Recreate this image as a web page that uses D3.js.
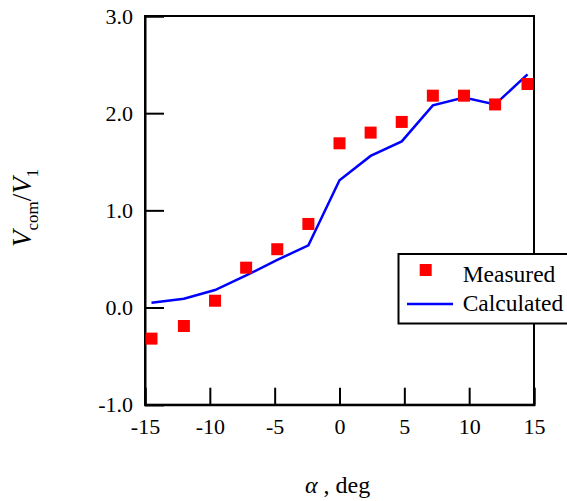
<!DOCTYPE html>
<html>
<head>
<meta charset="utf-8">
<script src="https://cdn.jsdelivr.net/npm/d3@7"></script>
<style>
body{margin:0;background:#fff;}
svg text{font-family:"Liberation Serif","Times New Roman",serif;fill:#000;}
</style>
</head>
<body>
<svg id="chart" width="567" height="501"></svg>
<script>
const alphaMeasured = [-14.5, -12, -9.6, -7.2, -4.8, -2.4, 0, 2.4, 4.8, 7.2, 9.6, 12, 14.5];
const measured = [-0.32, -0.19, 0.07, 0.41, 0.60, 0.86, 1.69, 1.80, 1.91, 2.18, 2.18, 2.09, 2.30];
const alphaCalc = [-14.5, -12, -9.6, -7.2, -4.8, -2.4, 0, 2.4, 4.8, 7.2, 9.6, 12, 14.5];
const calculated = [0.05, 0.09, 0.18, 0.33, 0.49, 0.64, 1.31, 1.56, 1.71, 2.08, 2.16, 2.09, 2.40];
const xTicks = [-15, -10, -5, 0, 5, 10, 15];
const yTicks = [-1, 0, 1, 2, 3];
const legendLabels = ["Measured", "Calculated"];

const svg = d3.select("#chart");
const L = 145, R = 534, T = 16, B = 404.7;
const x = d3.scaleLinear().domain([-15, 15]).range([L, R]);
const y = d3.scaleLinear().domain([-1, 3]).range([B, T]);

// frame
svg.append("rect").attr("x", L).attr("y", T).attr("width", R - L).attr("height", B - T)
  .attr("fill", "none").attr("stroke", "#000").attr("stroke-width", 2);

// axes
const yAxis = d3.axisLeft(y).tickValues(yTicks).tickSize(-19).tickPadding(12)
  .tickFormat(d => d.toFixed(1));
const gy = svg.append("g").attr("transform", `translate(${L},0)`).call(yAxis);
const xAxis = d3.axisBottom(x).tickValues(xTicks).tickSize(-17).tickPadding(14)
  .tickFormat(d => String(d));
const gx = svg.append("g").attr("transform", `translate(0,${B})`).call(xAxis);
[gx, gy].forEach(g => {
  g.select(".domain").attr("stroke", "#000").attr("stroke-width", 2);
  g.selectAll(".tick line").attr("stroke", "#000").attr("stroke-width", 2);
  g.selectAll(".tick text").attr("font-family", "Liberation Serif").attr("font-size", 22).attr("fill", "#000");
});
gx.selectAll(".tick text").attr("dy", "0.71em");

// line
const line = d3.line().x((d, i) => x(alphaCalc[i])).y(d => y(d));
svg.append("path").datum(calculated).attr("d", line)
  .attr("fill", "none").attr("stroke", "#0000ff").attr("stroke-width", 2.5);

// markers
const ms = 12;
svg.append("g").selectAll("rect").data(measured).join("rect")
  .attr("x", (d, i) => x(alphaMeasured[i]) - ms / 2)
  .attr("y", d => y(d) - ms / 2)
  .attr("width", ms).attr("height", ms).attr("fill", "#ff0000");

// legend
const lg = svg.append("g");
lg.append("rect").attr("x", 398.5).attr("y", 254).attr("width", 180).attr("height", 69.5)
  .attr("fill", "#fff").attr("stroke", "#000").attr("stroke-width", 2);
lg.append("rect").attr("x", 425.7 - ms / 2).attr("y", 270 - ms / 2).attr("width", ms).attr("height", ms).attr("fill", "#ff0000");
lg.append("line").attr("x1", 407).attr("x2", 453).attr("y1", 304).attr("y2", 304)
  .attr("stroke", "#0000ff").attr("stroke-width", 2.5);
lg.selectAll("text").data(legendLabels).join("text")
  .attr("x", 462.7).attr("y", (d, i) => i === 0 ? 282 : 310.5)
  .attr("font-size", 23.5).text(d => d);

// y label
const yl = svg.append("text").attr("transform", "translate(31,247) rotate(-90)").attr("font-size", 27);
yl.append("tspan").attr("font-style", "italic").text("V");
yl.append("tspan").attr("font-size", 17).attr("dy", 7).text("com");
yl.append("tspan").attr("dy", -7).text("/");
yl.append("tspan").attr("font-style", "italic").text("V");
yl.append("tspan").attr("font-size", 17).attr("dy", 7).text("1");

// x label
const xl = svg.append("text").attr("x", 305).attr("y", 493).attr("font-size", 24);
xl.append("tspan").attr("font-style", "italic").text("α");
xl.append("tspan").text(" , deg");
</script>
</body>
</html>
